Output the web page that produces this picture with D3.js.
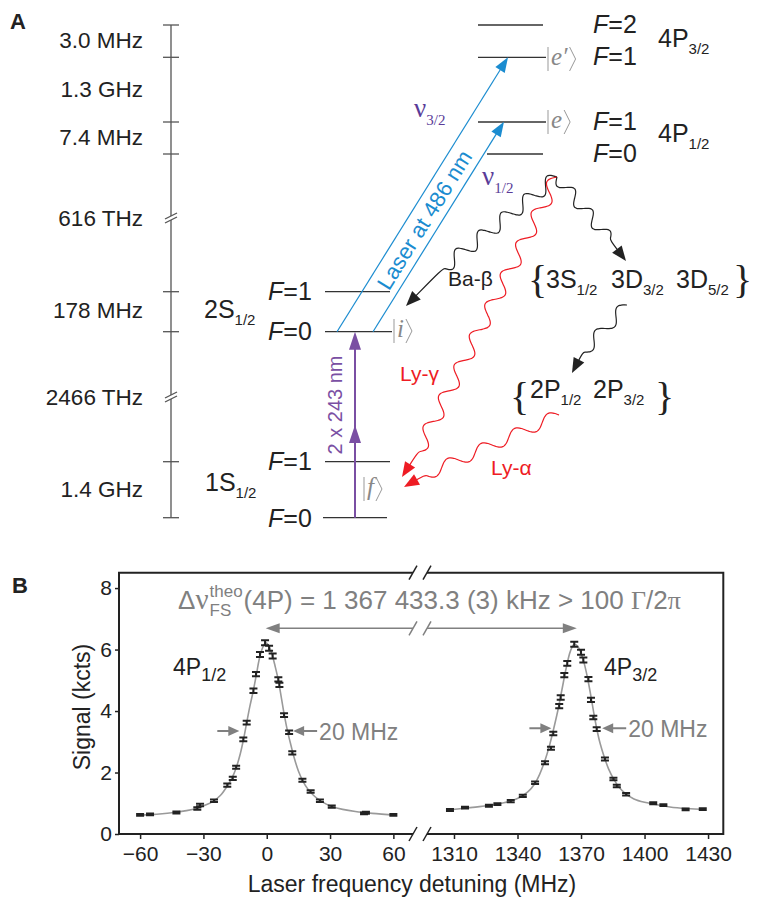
<!DOCTYPE html>
<html lang="en">
<head>
<meta charset="UTF-8">
<script src="https://d3js.org/d3.v7.min.js"></script>
<title>2S-4P spectroscopy</title>
<style>
  body { margin: 0; background: #fff; }
  text { font-family: "Liberation Sans", Arial, sans-serif; fill: #222; }
</style>
</head>
<body>
<svg id="fig" width="759" height="898"></svg>
<script>
// ---------- panel B data (detuning in MHz, signal in kcts)
var leftDet = [-60, -55.3, -42.8, -32.9, -31.6, -25, -18.7, -16.1, -14.5, -11.1, -9.5, -6.3, -5.1, -3.2, -0.8,
               1.1, 2.8, 5.5, 6.0, 8.2, 10.6, 12.1, 16.9, 20.8, 25.2, 30.8, 46.1, 47, 60];
var leftSig = [0.62, 0.64, 0.70, 0.83, 0.94, 1.08, 1.59, 1.81, 2.17, 3.08, 3.62, 4.66, 5.20, 5.84, 6.22,
               6.04, 5.79, 5.03, 4.85, 3.87, 3.31, 2.64, 1.75, 1.38, 1.08, 0.89, 0.67, 0.69, 0.62];
var leftErr = [0.03, 0.03, 0.03, 0.04, 0.04, 0.04, 0.05, 0.05, 0.05, 0.06, 0.06, 0.07, 0.07, 0.08, 0.08,
               0.08, 0.08, 0.07, 0.07, 0.06, 0.06, 0.05, 0.05, 0.04, 0.04, 0.04, 0.03, 0.03, 0.03];

var rightDet = [1308.1, 1315.2, 1326.5, 1330.5, 1336.8, 1342.5, 1348.3, 1353, 1355.8, 1356.9, 1359.7, 1360.4, 1362.1, 1363.5, 1366.8,
                1370, 1371.1, 1373.5, 1374.7, 1375.8, 1377.4, 1381.3, 1385.3, 1386.9, 1391.3, 1404.1, 1408.9, 1419.4, 1427.5];
var rightSig = [0.78, 0.86, 0.92, 0.97, 1.07, 1.24, 1.67, 2.32, 2.79, 3.27, 4.16, 4.44, 5.17, 5.55, 6.17,
                5.91, 5.66, 5.04, 4.36, 3.79, 3.41, 2.44, 1.79, 1.56, 1.29, 1.00, 0.94, 0.80, 0.81];
var rightErr = [0.03, 0.03, 0.03, 0.03, 0.04, 0.04, 0.04, 0.05, 0.05, 0.06, 0.07, 0.07, 0.07, 0.08, 0.08,
                0.08, 0.08, 0.07, 0.07, 0.06, 0.06, 0.05, 0.04, 0.04, 0.04, 0.03, 0.03, 0.03, 0.03];

// fitted line shapes
var leftFitDet = [-61, -55, -45, -38, -33, -29, -25, -22, -19, -16.5, -14.5, -12.5, -11, -9.5, -8, -6.5, -5, -3.5, -2, -0.5,
                  1, 2.5, 4, 5.5, 7, 8.5, 10, 11.5, 13, 15, 17, 19.5, 22, 25, 28, 31, 36, 42, 50, 61];
var leftFitSig = [0.61, 0.63, 0.69, 0.76, 0.84, 0.94, 1.08, 1.25, 1.53, 1.82, 2.15, 2.62, 3.08, 3.62, 4.15, 4.62, 5.15, 5.70, 6.05, 6.22,
                  6.12, 5.85, 5.45, 5.00, 4.40, 3.80, 3.30, 2.88, 2.48, 2.05, 1.74, 1.46, 1.27, 1.10, 0.98, 0.89, 0.80, 0.73, 0.67, 0.61];
var rightFitDet = [1307, 1315, 1322, 1330, 1336, 1341, 1345, 1348, 1350.5, 1353, 1355, 1357, 1359, 1361, 1363, 1365, 1366.8, 1368.5,
                   1370, 1371.5, 1373, 1374.5, 1376, 1377.5, 1379, 1381, 1383, 1385.5, 1388, 1391, 1395, 1400, 1406, 1412, 1420, 1429];
var rightFitSig = [0.78, 0.84, 0.89, 0.97, 1.06, 1.19, 1.38, 1.62, 1.95, 2.40, 2.85, 3.40, 4.00, 4.70, 5.40, 5.95, 6.17, 6.10,
                   5.88, 5.55, 5.10, 4.55, 3.95, 3.40, 2.95, 2.50, 2.12, 1.78, 1.52, 1.31, 1.14, 1.03, 0.95, 0.88, 0.83, 0.80];

var xTicksLeft = [-60, -30, 0, 30, 60];
var xTicksRight = [1310, 1340, 1370, 1400, 1430];
var yTicks = [0, 2, 4, 6, 8];

// half-maximum markers and the fine-structure arrow (MHz, kcts)
var fwhmLeft = [-13, 12.5], fwhmLeftY = 3.35;
var fwhmRight = [1356, 1380], fwhmRightY = 3.44;
var fsArrow = [-0.5, 1368], fsArrowY = 6.69;

// ---------- panel A labels
var spacingLabels = ["3.0 MHz", "1.3 GHz", "7.4 MHz", "616 THz", "178 MHz", "2466 THz", "1.4 GHz"];

var svg = d3.select("#fig");
var gray = "#808080", purple = "#7a4fa3", nuPurple = "#5a3c98", blue = "#1b8cd0", red = "#ee1c24", ink = "#222";

function arrowHead(g, tip, dir, len, half, color) {
  var L = Math.hypot(dir[0], dir[1]), ux = dir[0] / L, uy = dir[1] / L;
  var bx = tip[0] - ux * len, by = tip[1] - uy * len;
  g.append("path")
    .attr("d", "M" + tip + "L" + [bx - uy * half, by + ux * half] + "L" + [bx + uy * half, by - ux * half] + "Z")
    .attr("fill", color);
}

// ======================= PANEL A =======================
var A = svg.append("g");
A.append("text").attr("x", 10).attr("y", 29).text("A")
  .style("font-family", "'Liberation Sans Narrow', 'Liberation Sans'").style("font-weight", "bold").style("font-size", "22px");

// level heights of the schematic (pixels)
var tickY = [25, 57.3, 122, 154, 291.7, 331.7, 461.7, 517.7];
var axisX = 171;
var breaks = [218, 397];
var axG = A.append("g").attr("stroke", "#555").attr("stroke-width", 1.3).attr("fill", "none");
axG.append("path").attr("d", "M" + axisX + ",25V216M" + axisX + ",220V395M" + axisX + ",399V517.7");
breaks.forEach(function (b) {
  [-2, 2].forEach(function (o) {
    axG.append("line").attr("x1", axisX - 6).attr("y1", b + o + 3).attr("x2", axisX + 6).attr("y2", b + o - 3);
  });
});
tickY.forEach(function (y) {
  axG.append("line").attr("x1", axisX - 8).attr("x2", axisX + 8).attr("y1", y).attr("y2", y);
});
var labelY = [48, 96.5, 145, 226, 318, 405, 497];
spacingLabels.forEach(function (s, i) {
  A.append("text").attr("x", 143).attr("y", labelY[i]).attr("text-anchor", "end")
    .style("font-size", "22.5px").text(s);
});

// energy levels
var levels = [
  [478, 543, 25], [478, 546, 57.3], [478, 546, 122], [487, 543, 154],
  [325, 390, 291.7], [325, 392, 331.7], [325, 390, 461.7], [323, 387, 517.7]
];
A.append("g").selectAll("line").data(levels).enter().append("line")
  .attr("x1", function (d) { return d[0]; }).attr("x2", function (d) { return d[1]; })
  .attr("y1", function (d) { return d[2]; }).attr("y2", function (d) { return d[2]; })
  .attr("stroke", "#333").attr("stroke-width", 1.3);

function fLabel(x, y, val) {
  var t = A.append("text").attr("x", x).attr("y", y).style("font-size", "25px");
  t.append("tspan").style("font-style", "italic").text("F");
  t.append("tspan").text("=" + val);
}
fLabel(593, 33, 2); fLabel(593, 65, 1); fLabel(593, 130, 1); fLabel(593, 162, 0);
fLabel(268, 300, 1); fLabel(268, 340, 0); fLabel(268, 470, 1); fLabel(268, 527, 0);

function subLabel(g, x, y, main, sub, size, subSize, color) {
  var t = g.append("text").attr("x", x).attr("y", y).style("font-size", size + "px");
  if (color) t.style("fill", color);
  t.append("tspan").text(main);
  t.append("tspan").attr("dy", size * 0.28).style("font-size", subSize + "px").text(sub);
  return t;
}
subLabel(A, 658, 47, "4P", "3/2", 25, 15);
subLabel(A, 658, 142, "4P", "1/2", 25, 15);
subLabel(A, 204, 318, "2S", "1/2", 25, 15);
subLabel(A, 205, 491, "1S", "1/2", 25, 15);

// kets
function ket(x, yc, letter) {
  var g = A.append("g");
  g.append("line").attr("x1", x).attr("x2", x).attr("y1", yc - 12).attr("y2", yc + 12)
    .attr("stroke", "#999").attr("stroke-width", 1);
  var t = g.append("text").attr("x", x + 3).attr("y", yc + 6)
    .style("font-family", "'Liberation Serif', 'DejaVu Serif', serif").style("font-style", "italic")
    .style("font-size", "25px").style("fill", "#888").text(letter);
  var w = t.node().getComputedTextLength();
  var bx = x + 5 + w;
  g.append("path").attr("d", "M" + bx + "," + (yc - 12) + "L" + (bx + 6) + "," + yc + "L" + bx + "," + (yc + 12))
    .attr("fill", "none").attr("stroke", "#999").attr("stroke-width", 1);
}
ket(548, 59, "e\u2032");
ket(548, 122, "e");
ket(394, 331, "i");
ket(364, 489, "f");

// two-photon 1S-2S excitation
A.append("line").attr("x1", 355).attr("x2", 355).attr("y1", 517.7).attr("y2", 345)
  .attr("stroke", purple).attr("stroke-width", 2);
arrowHead(A, [355, 331.7], [0, -1], 18, 6, purple);
arrowHead(A, [355, 425], [0, -1], 18, 6, purple);
A.append("text").attr("transform", "translate(342,405) rotate(-90)").attr("text-anchor", "middle")
  .style("font-size", "20px").style("fill", purple).text("2 x 243 nm");

// 486 nm laser
var laser = [[[337, 331.7], [508, 57.3]], [[373, 331.7], [504, 121.7]]];
laser.forEach(function (l) {
  var d = [l[1][0] - l[0][0], l[1][1] - l[0][1]], L = Math.hypot(d[0], d[1]);
  A.append("line").attr("x1", l[0][0]).attr("y1", l[0][1])
    .attr("x2", l[1][0] - d[0] / L * 12).attr("y2", l[1][1] - d[1] / L * 12)
    .attr("stroke", blue).attr("stroke-width", 1.2);
  arrowHead(A, l[1], d, 15, 5.5, blue);
});
A.append("text").attr("transform", "translate(424.6,220) rotate(-58.07)").attr("text-anchor", "middle")
  .attr("y", 7.5).style("font-size", "22px").style("fill", blue).text("Laser at 486 nm");

function nu(x, y, sub) {
  var t = A.append("text").attr("x", x).attr("y", y).style("fill", nuPurple);
  t.append("tspan").style("font-family", "'Liberation Serif', serif").style("font-size", "27px").text("\u03bd");
  t.append("tspan").attr("dy", 8).style("font-family", "'Liberation Serif', serif").style("font-size", "15px").text(sub);
}
nu(414, 117, "3/2");
nu(482, 185, "1/2");

// decay paths
function wave(start, waveEnd, tip, period, amp, color) {
  var dx = waveEnd[0] - start[0], dy = waveEnd[1] - start[1], L = Math.hypot(dx, dy);
  var ux = dx / L, uy = dy / L, nx = -uy, ny = ux;
  var k = Math.max(1, Math.round(L / period)), p = L / k;
  var pts = d3.range(0, k * 24 + 1).map(function (i) {
    var s = i / (k * 24) * L, off = amp * Math.sin(2 * Math.PI * s / p);
    return [start[0] + ux * s + nx * off, start[1] + uy * s + ny * off];
  });
  var dir = [tip[0] - waveEnd[0], tip[1] - waveEnd[1]], dl = Math.hypot(dir[0], dir[1]);
  pts.push([tip[0] - dir[0] / dl * 10, tip[1] - dir[1] / dl * 10]);
  A.append("path").attr("d", d3.line().curve(d3.curveBasis)(pts))
    .attr("fill", "none").attr("stroke", color).attr("stroke-width", 1.2);
  arrowHead(A, tip, dir, 15, 6, color);
}
wave([557, 177], [443, 268], [406, 306], 31, 7, ink);
wave([557, 177], [418, 452], [402, 477], 36, 7, red);
wave([557, 177], [610, 240], [626, 261], 30, 6, ink);
wave([627, 305], [583, 352], [572, 373], 32, 6, ink);
wave([559, 415], [425, 475], [404, 487], 34, 6, red);

A.append("text").attr("x", 448).attr("y", 286).style("font-size", "21px").text("Ba-\u03b2");
A.append("text").attr("x", 400).attr("y", 381).style("font-size", "21px").style("fill", red).text("Ly-\u03b3");
A.append("text").attr("x", 491).attr("y", 475).style("font-size", "21px").style("fill", red).text("Ly-\u03b1");

function brace(x, y, ch) {
  A.append("text").attr("x", x).attr("y", y)
    .style("font-family", "'Liberation Serif', serif").style("font-size", "40px").text(ch);
}
brace(528, 293, "{"); brace(733, 293, "}");
subLabel(A, 546, 288, "3S", "1/2", 25, 15);
subLabel(A, 611, 288, "3D", "3/2", 25, 15);
subLabel(A, 676, 288, "3D", "5/2", 25, 15);
brace(510, 410, "{"); brace(655, 410, "}");
subLabel(A, 530, 398, "2P", "1/2", 25, 15);
subLabel(A, 593, 398, "2P", "3/2", 25, 15);

// ======================= PANEL B =======================
var B = svg.append("g");
B.append("text").attr("x", 12).attr("y", 593).text("B")
  .style("font-family", "'Liberation Sans Narrow', 'Liberation Sans'").style("font-weight", "bold").style("font-size", "22px");

var xL = d3.scaleLinear().domain([-70, 69.3]).range([119, 413]);
var xR = d3.scaleLinear().domain([1297.25, 1437.2]).range([427, 723.3]);
var y = d3.scaleLinear().domain([0, 8.5]).range([834, 572.7]);

function styleAxis(g) {
  g.select(".domain").remove();
  g.selectAll(".tick line").attr("stroke", ink).attr("stroke-width", 1.5);
  g.selectAll(".tick text").style("font-size", "21px").style("font-family", "'Liberation Sans', Arial, sans-serif").attr("fill", ink);
}
B.append("g").attr("transform", "translate(0,834)")
  .call(d3.axisBottom(xL).tickValues(xTicksLeft).tickSize(5).tickPadding(7)).call(styleAxis);
B.append("g").attr("transform", "translate(0,834)")
  .call(d3.axisBottom(xR).tickValues(xTicksRight).tickFormat(d3.format("d")).tickSize(5).tickPadding(7)).call(styleAxis);
B.append("g").attr("transform", "translate(119,0)")
  .call(d3.axisLeft(y).tickValues(yTicks).tickSize(4).tickPadding(3)).call(styleAxis);

// frame with axis break
var yTop = y(8.5), yBot = y(0), bx0 = xL.range()[1], bx1 = xR.range()[0];
var frame = B.append("g").attr("stroke", ink).attr("stroke-width", 2).attr("fill", "none");
frame.append("path").attr("d",
  "M" + bx0 + "," + yTop + "H119V" + yBot + "H" + bx0 +
  "M" + bx1 + "," + yTop + "H723.3V" + yBot + "H" + bx1);
[yTop, yBot].forEach(function (yy) {
  [bx0, bx1].forEach(function (xx) {
    frame.append("line").attr("x1", xx - 4).attr("y1", yy + 7).attr("x2", xx + 4).attr("y2", yy - 7)
      .attr("stroke-width", 1.5);
  });
});

// fitted curves
var lineL = d3.line().x(function (d, i) { return xL(leftFitDet[i]); }).y(function (d) { return y(d); }).curve(d3.curveCatmullRom);
var lineR = d3.line().x(function (d, i) { return xR(rightFitDet[i]); }).y(function (d) { return y(d); }).curve(d3.curveCatmullRom);
B.append("path").attr("d", lineL(leftFitSig)).attr("fill", "none").attr("stroke", "#9a9a9a").attr("stroke-width", 1.6);
B.append("path").attr("d", lineR(rightFitSig)).attr("fill", "none").attr("stroke", "#9a9a9a").attr("stroke-width", 1.6);

// data with error bars
function points(xs, det, sig, err) {
  var g = B.append("g").attr("stroke", ink).attr("stroke-width", 2);
  det.forEach(function (d, i) {
    var cx = xs(d), y0 = y(sig[i] - err[i]), y1 = y(sig[i] + err[i]);
    g.append("path").attr("d", "M" + cx + "," + (y0 + 1) + "V" + (y1 - 1) +
      "M" + (cx - 4) + "," + y0 + "H" + (cx + 4) + "M" + (cx - 4) + "," + y1 + "H" + (cx + 4));
  });
}
points(xL, leftDet, leftSig, leftErr);
points(xR, rightDet, rightSig, rightErr);

// labels
subLabel(B, 173, 675, "4P", "1/2", 23, 18);
subLabel(B, 604, 675, "4P", "3/2", 23, 18);

// half-maximum arrows
function hm(xs, pair, hy) {
  var yy = y(hy);
  var g = B.append("g");
  g.append("line").attr("x1", xs(pair[0]) - 22).attr("x2", xs(pair[0]) - 9).attr("y1", yy).attr("y2", yy)
    .attr("stroke", gray).attr("stroke-width", 2);
  arrowHead(g, [xs(pair[0]), yy], [1, 0], 11, 5, gray);
  g.append("line").attr("x1", xs(pair[1]) + 9).attr("x2", xs(pair[1]) + 24).attr("y1", yy).attr("y2", yy)
    .attr("stroke", gray).attr("stroke-width", 2);
  arrowHead(g, [xs(pair[1]), yy], [-1, 0], 11, 5, gray);
  g.append("text").attr("x", xs(pair[1]) + 26).attr("y", yy + 9).style("font-size", "23px").style("fill", gray).text("20 MHz");
}
hm(xL, fwhmLeft, fwhmLeftY);
hm(xR, fwhmRight, fwhmRightY);

// fine-structure splitting arrow
var ay = y(fsArrowY), ax0 = xL(fsArrow[0]), ax1 = xR(fsArrow[1]);
var fa = B.append("g").attr("stroke", gray).attr("stroke-width", 1.5);
fa.append("path").attr("d", "M" + (ax0 + 12) + "," + ay + "H" + bx0 + "M" + bx1 + "," + ay + "H" + (ax1 - 12)).attr("fill", "none");
[bx0, bx1].forEach(function (xx) {
  fa.append("line").attr("x1", xx - 4).attr("y1", ay + 7).attr("x2", xx + 4).attr("y2", ay - 7);
});
arrowHead(B, [ax0, ay], [-1, 0], 14, 5, gray);
arrowHead(B, [ax1, ay], [1, 0], 14, 5, gray);

// splitting formula
var fx = 178, fy = 609;
var f1 = B.append("text").attr("x", fx).attr("y", fy).style("font-size", "26px").style("fill", gray);
f1.append("tspan").text("\u0394");
f1.append("tspan").style("font-family", "'Liberation Serif', serif").style("font-size", "29px").text("\u03bd");
var w1 = f1.node().getComputedTextLength();
var sup = B.append("text").attr("x", fx + w1 + 1).attr("y", fy - 12).style("font-size", "17px").style("fill", gray).text("theo");
var sb = B.append("text").attr("x", fx + w1 + 1).attr("y", fy + 7).style("font-size", "17px").style("fill", gray).text("FS");
var w2 = Math.max(sup.node().getComputedTextLength(), sb.node().getComputedTextLength());
var f2 = B.append("text").attr("x", fx + w1 + w2 + 2).attr("y", fy).style("font-size", "26px").style("fill", gray);
f2.append("tspan").text("(4P) = 1 367 433.3 (3) kHz > 100 ");
f2.append("tspan").style("font-family", "'Liberation Serif', serif").text("\u0393");
f2.append("tspan").text("/2");
f2.append("tspan").style("font-family", "'Liberation Serif', serif").text("\u03c0");

// axis titles
B.append("text").attr("transform", "translate(90,707) rotate(-90)").attr("text-anchor", "middle")
  .style("font-size", "23px").text("Signal (kcts)");
B.append("text").attr("x", 412).attr("y", 892).attr("text-anchor", "middle")
  .style("font-size", "23px").text("Laser frequency detuning (MHz)");
</script>
</body>
</html>
